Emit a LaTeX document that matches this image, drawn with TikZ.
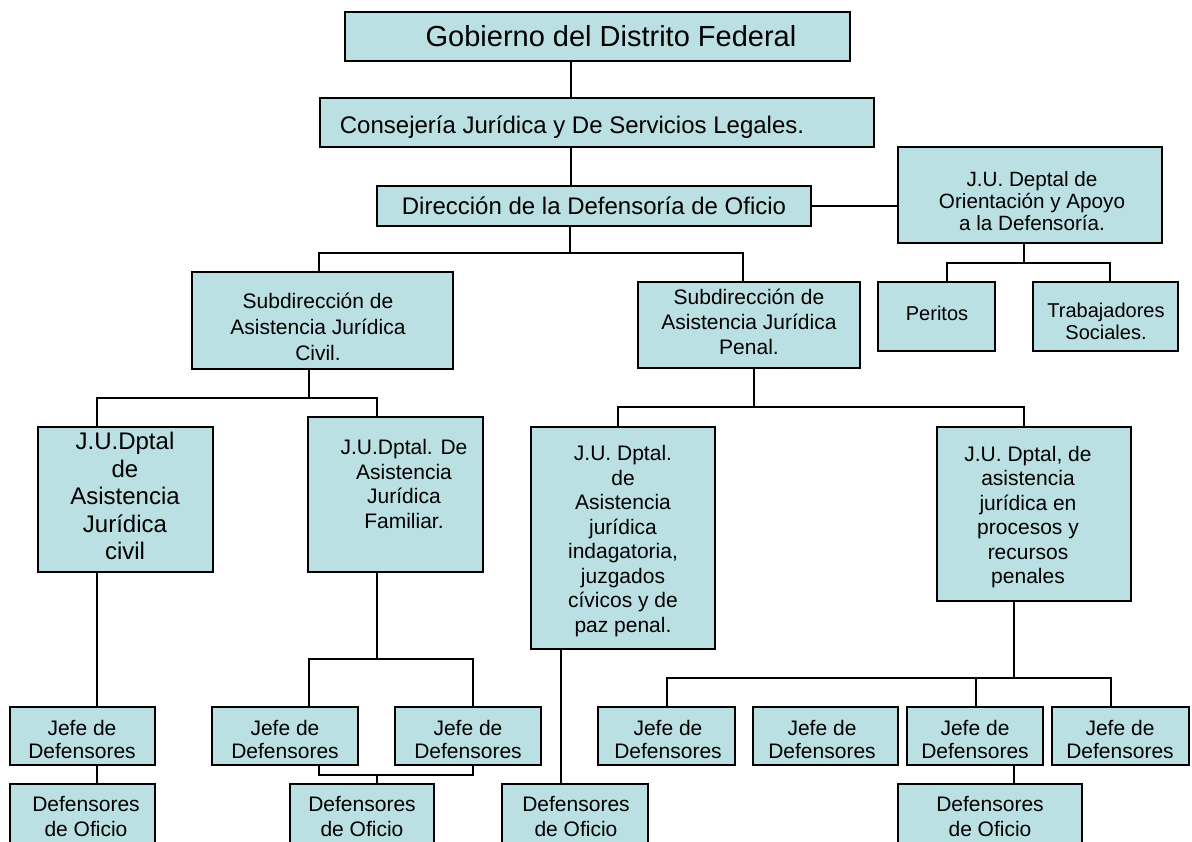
\documentclass[tikz,border=0pt]{standalone}
\usepackage{fontspec}
\setmainfont{Liberation Sans}
\definecolor{boxfill}{RGB}{187,224,227}
\tikzset{
  obox/.style={draw=black, fill=boxfill, line width=1.4pt, inner sep=0pt, rectangle},
  otext/.style={align=center, inner sep=0pt, text=black},
  conn/.style={draw=black, line width=1.2pt},
  fbig/.style={font=\fontsize{21.75}{24}\selectfont},
  fmid/.style={font=\fontsize{18}{20}\selectfont},
  fciv/.style={font=\fontsize{18}{20.6}\selectfont},
  fa/.style={font=\fontsize{15.75}{18.4}\selectfont},
  fb/.style={font=\fontsize{15.5}{16.5}\selectfont},
  fc/.style={font=\fontsize{15.75}{19.5}\selectfont},
  fd/.style={font=\fontsize{15.75}{18.75}\selectfont},
  fe/.style={font=\fontsize{15.75}{17.25}\selectfont},
  ff/.style={font=\fontsize{15}{16.5}\selectfont},
}
\newcommand\orgbox[9]{%
  \node[obox, minimum width={(#4-#2)*0.75pt}, minimum height={(#5-#3)*0.75pt}] (#1) at ({(#2+#4)/2},{(#3+#5)/2}) {};
  \node[otext, #8] (#1-t) at (#6,#7) {#9};
}
\begin{document}
\begin{tikzpicture}[x=0.75pt, y=-0.75pt]
\useasboundingbox (0,0) rectangle (1192,842);
% boxes
\orgbox{gob}{345}{12}{850}{61}{611}{36}{fbig}{Gobierno del Distrito Federal}
\orgbox{cons}{320}{98}{874}{147}{572}{127}{fmid}{Consejería Jurídica y De Servicios Legales.}
\orgbox{dir}{377}{186}{811}{226}{594}{206}{fmid}{Dirección de la Defensoría de Oficio}
\orgbox{ju}{898}{147}{1162}{243}{1032}{201}{fb}{J.U. Deptal de\\Orientación y Apoyo\\a la Defensoría.}
\orgbox{per}{878}{282}{995}{351}{937}{313}{ff}{Peritos}
\orgbox{trab}{1033}{282}{1178}{351}{1106}{321}{ff}{Trabajadores\\Sociales.}
\orgbox{civsub}{192}{272}{453}{369}{318}{327}{fc}{Subdirección de\\Asistencia Jurídica\\Civil.}
\orgbox{pensub}{638}{282}{860}{368}{749}{322}{fd}{Subdirección de\\Asistencia Jurídica\\Penal.}
\orgbox{civju}{38}{427}{213}{572}{125}{496}{fciv}{J.U.Dptal\\de\\Asistencia\\Jurídica\\civil}
\orgbox{fam}{308}{417}{483}{572}{404}{484}{fa}{J.U.Dptal. De\\Asistencia\\Jurídica\\Familiar.}
\orgbox{ind}{531}{427}{715}{649}{623}{541}{fa}{J.U. Dptal.\\de\\Asistencia\\jurídica\\indagatoria,\\juzgados\\cívicos y de\\paz penal.}
\orgbox{proc}{937}{427}{1131}{601}{1028}{517}{fa}{J.U. Dptal, de\\asistencia\\jurídica en\\procesos y\\recursos\\penales}
\orgbox{jefeA}{10}{707}{155}{765}{82}{739}{fe}{Jefe de\\Defensores}
\orgbox{jefeB}{212}{707}{358}{765}{285}{739}{fe}{Jefe de\\Defensores}
\orgbox{jefeC}{395}{707}{541}{765}{468}{739}{fe}{Jefe de\\Defensores}
\orgbox{jefeD}{598}{707}{735}{765}{668}{739}{fe}{Jefe de\\Defensores}
\orgbox{jefeE}{753}{707}{898}{765}{822}{739}{fe}{Jefe de\\Defensores}
\orgbox{jefeF}{907}{707}{1043}{765}{975}{739}{fe}{Jefe de\\Defensores}
\orgbox{jefeG}{1052}{707}{1189}{765}{1120}{739}{fe}{Jefe de\\Defensores}
\orgbox{defA}{10}{784}{155}{850}{86}{816}{fd}{Defensores\\de Oficio}
\orgbox{defB}{290}{784}{434}{850}{362}{816}{fd}{Defensores\\de Oficio}
\orgbox{defC}{502}{784}{648}{850}{576}{816}{fd}{Defensores\\de Oficio}
\orgbox{defD}{898}{784}{1082}{850}{990}{816}{fd}{Defensores\\de Oficio}
% x positions of vertical connector lines
\coordinate (k571) at (571,0);
\coordinate (k319) at (319,0);
\coordinate (k743) at (743,0);
\coordinate (k947) at (947,0);
\coordinate (k1110) at (1110,0);
\coordinate (k97) at (97,0);
\coordinate (k377) at (377,0);
\coordinate (k618) at (618,0);
\coordinate (k1024) at (1024,0);
\coordinate (k309) at (309,0);
\coordinate (k473) at (473,0);
\coordinate (k561) at (561,0);
\coordinate (k667) at (667,0);
\coordinate (k820) at (820,0);
\coordinate (k976) at (976,0);
\coordinate (k1111) at (1111,0);
\coordinate (k1014) at (1014,0);
% bus junctions
\coordinate (busA) at (570,253);
\coordinate (busB) at (1024,263);
\coordinate (busC) at (309,398);
\coordinate (busD) at (754,407);
\coordinate (busE) at (377,659);
\coordinate (busF) at (1014,678);
\coordinate (busG) at (377,775);
% connectors
\draw[conn] (gob.south -| k571) -- (cons.north -| k571);
\draw[conn] (cons.south -| k571) -- (dir.north -| k571);
\draw[conn] (dir.east) -- (dir.east -| ju.west);
\draw[conn] (dir.south -| busA) -- (busA);
\draw[conn] (civsub.north -| k319) |- (busA) -| (pensub.north -| k743);
\draw[conn] (ju.south -| busB) -- (busB);
\draw[conn] (per.north -| k947) |- (busB) -| (trab.north -| k1110);
\draw[conn] (civsub.south -| busC) -- (busC);
\draw[conn] (civju.north -| k97) |- (busC) -| (fam.north -| k377);
\draw[conn] (pensub.south -| busD) -- (busD);
\draw[conn] (ind.north -| k618) |- (busD) -| (proc.north -| k1024);
\draw[conn] (civju.south -| k97) -- (jefeA.north -| k97);
\draw[conn] (jefeA.south -| k97) -- (defA.north -| k97);
\draw[conn] (fam.south -| busE) -- (busE);
\draw[conn] (jefeB.north -| k309) |- (busE) -| (jefeC.north -| k473);
\draw[conn] (jefeB.south -| k319) |- (busG) -| (jefeC.south -| k473);
\draw[conn] (busG) -- (defB.north -| busG);
\draw[conn] (ind.south -| k561) -- (defC.north -| k561);
\draw[conn] (proc.south -| busF) -- (busF);
\draw[conn] (jefeD.north -| k667) |- (busF) -| (jefeG.north -| k1111);
\draw[conn] (jefeE.north -| k820) -- (jefeE.north -| k820 |- busF);
\draw[conn] (jefeF.north -| k976) -- (busF -| k976);
\draw[conn] (jefeF.south -| k1014) -- (defD.north -| k1014);
\end{tikzpicture}
\end{document}
